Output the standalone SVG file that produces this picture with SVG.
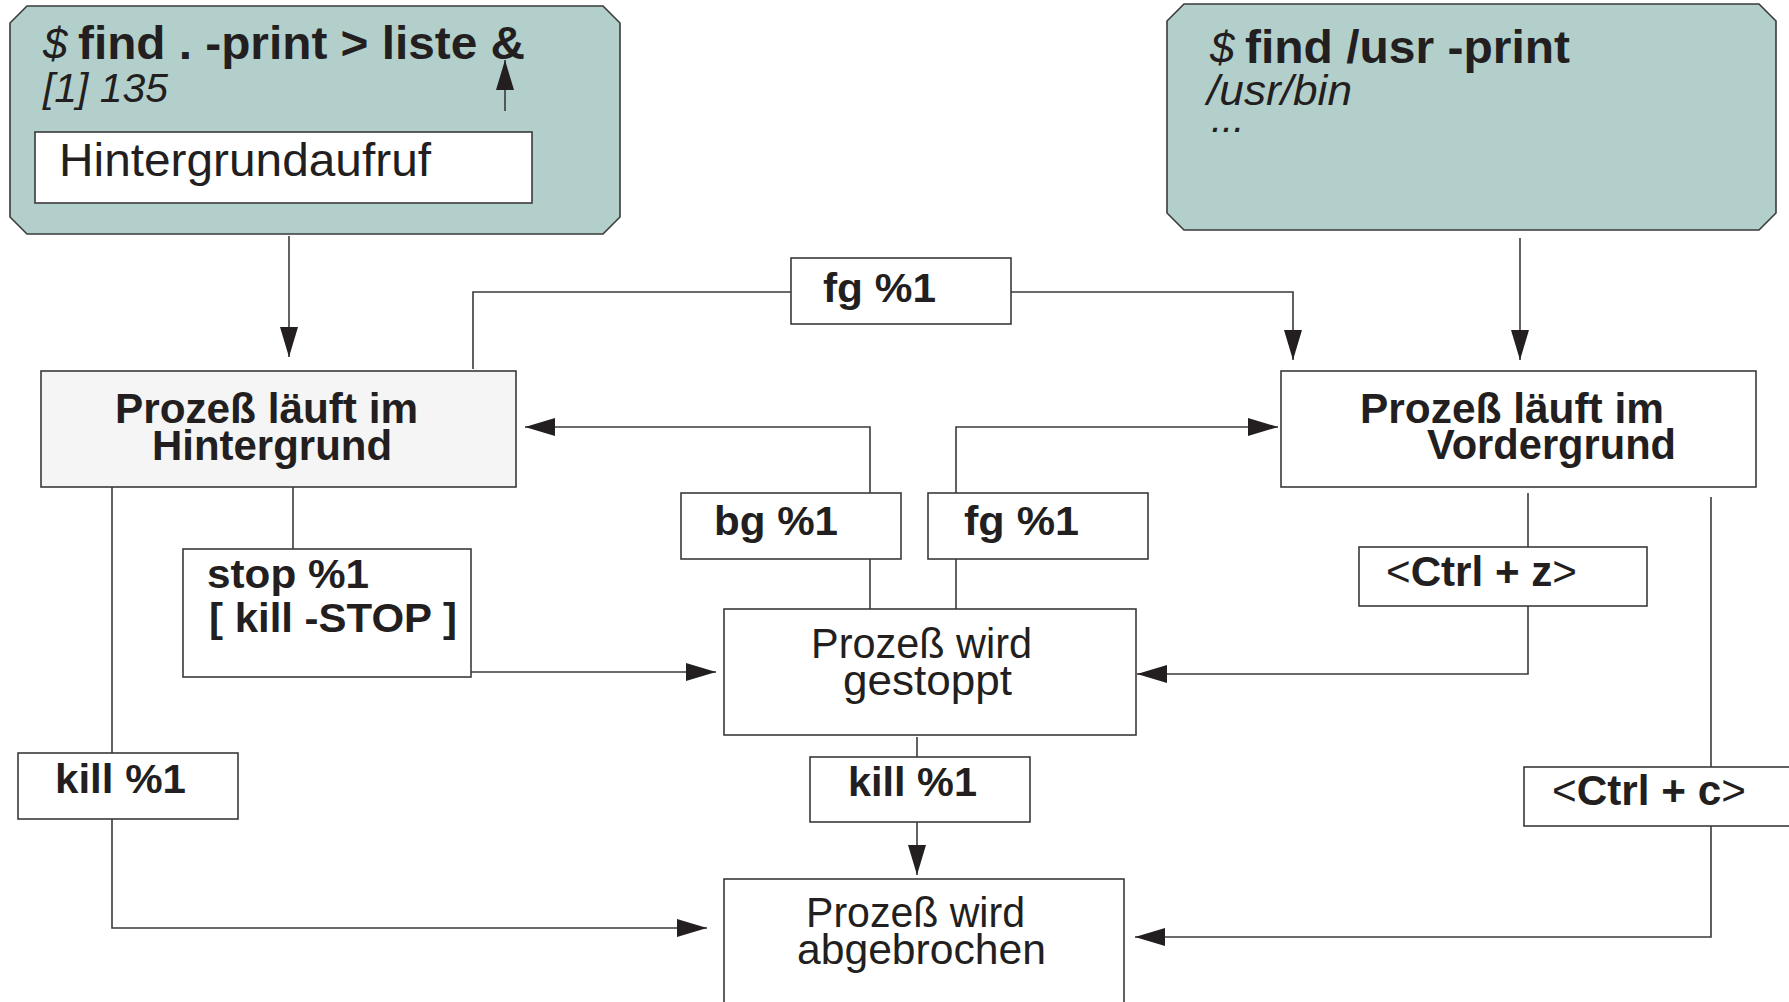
<svg xmlns="http://www.w3.org/2000/svg" width="1789" height="1002" viewBox="0 0 1789 1002">
  <style>
    .box { fill: #ffffff; stroke: #3a3a3a; stroke-width: 1.6; }
    .term { fill: #b3cfcb; stroke: #3a3a3a; stroke-width: 1.6; }
    .gray { fill: #f5f5f5; stroke: #3a3a3a; stroke-width: 1.6; }
    .conn { fill: none; stroke: #3a3a3a; stroke-width: 1.6; }
    text { font-family: "Liberation Sans", Arial, sans-serif; fill: #231f20; }
    .b { font-weight: bold; }
    .i { font-style: italic; }
    .lbl { font-weight: bold; font-size: 40px; }
    .head { font-weight: bold; font-size: 42px; }
    .reg { font-size: 42px; }
  </style>
  <defs>
    <marker id="arr" markerUnits="userSpaceOnUse" markerWidth="30" markerHeight="18" refX="30" refY="9" orient="auto">
      <path d="M0,0 L30,9 L0,18 Z" fill="#231f20"/>
    </marker>
  </defs>

  <g id="connectors">
    <path class="conn" d="M289,236 V357" marker-end="url(#arr)"/>
    <path class="conn" d="M1520,238 V360" marker-end="url(#arr)"/>
    <path class="conn" d="M473,369 V292 H791"/>
    <path class="conn" d="M1011,292 H1293 V360" marker-end="url(#arr)"/>
    <path class="conn" d="M870,609 V559"/>
    <path class="conn" d="M870,493 V427 H525" marker-end="url(#arr)"/>
    <path class="conn" d="M956,609 V559"/>
    <path class="conn" d="M956,493 V427 H1278" marker-end="url(#arr)"/>
    <path class="conn" d="M112,487 V753"/>
    <path class="conn" d="M112,819 V928 H707" marker-end="url(#arr)"/>
    <path class="conn" d="M293,487 V549"/>
    <path class="conn" d="M471,672 H716" marker-end="url(#arr)"/>
    <path class="conn" d="M1528,493 V547"/>
    <path class="conn" d="M1528,606 V674 H1137" marker-end="url(#arr)"/>
    <path class="conn" d="M1711,497 V767"/>
    <path class="conn" d="M1711,826 V937 H1135" marker-end="url(#arr)"/>
    <path class="conn" d="M917,737 V757"/>
    <path class="conn" d="M917,822 V875" marker-end="url(#arr)"/>
  </g>

  <g id="terminal-bg">
    <polygon class="term" points="27,6 603,6 620,23 620,217 603,234 27,234 10,217 10,23"/>
    <text x="43" y="59" class="i" font-size="44">$</text>
    <text x="78" y="59" class="b" font-size="46" textLength="447" lengthAdjust="spacingAndGlyphs">find . -print &gt; liste &amp;</text>
    <text x="43" y="102" class="i" font-size="40" textLength="125" lengthAdjust="spacingAndGlyphs">[1] 135</text>
    <path class="conn" d="M505,111 V60" marker-end="url(#arr)"/>
    <rect class="box" x="35" y="132" width="497" height="71"/>
    <text x="59" y="176" font-size="46" textLength="372" lengthAdjust="spacingAndGlyphs">Hintergrundaufruf</text>
  </g>

  <g id="terminal-fg">
    <polygon class="term" points="1184,4 1759,4 1776,21 1776,213 1759,230 1184,230 1167,213 1167,21"/>
    <text x="1210" y="63" class="i" font-size="44">$</text>
    <text x="1245" y="63" class="b" font-size="46" textLength="325" lengthAdjust="spacingAndGlyphs">find /usr -print</text>
    <text x="1207" y="105" class="i" font-size="42" textLength="145" lengthAdjust="spacingAndGlyphs">/usr/bin</text>
    <text x="1211" y="132" class="i" font-size="40">...</text>
  </g>

  <g id="label-fg-top">
    <rect class="box" x="791" y="258" width="220" height="66"/>
    <text x="823" y="302" class="lbl" textLength="113" lengthAdjust="spacingAndGlyphs">fg %1</text>
  </g>

  <g id="node-hintergrund">
    <rect class="gray" x="41" y="371" width="475" height="116"/>
    <text x="115" y="423" class="head" textLength="303" lengthAdjust="spacingAndGlyphs">Prozeß läuft im</text>
    <text x="152" y="460" class="head" textLength="240" lengthAdjust="spacingAndGlyphs">Hintergrund</text>
  </g>

  <g id="node-vordergrund">
    <rect class="box" x="1281" y="371" width="475" height="116"/>
    <text x="1360" y="423" class="head" textLength="304" lengthAdjust="spacingAndGlyphs">Prozeß läuft im</text>
    <text x="1427" y="459" class="head" textLength="249" lengthAdjust="spacingAndGlyphs">Vordergrund</text>
  </g>

  <g id="label-bg">
    <rect class="box" x="681" y="493" width="220" height="66"/>
    <text x="714" y="535" class="lbl" textLength="124" lengthAdjust="spacingAndGlyphs">bg %1</text>
  </g>

  <g id="label-fg-mid">
    <rect class="box" x="928" y="493" width="220" height="66"/>
    <text x="964" y="535" class="lbl" textLength="115" lengthAdjust="spacingAndGlyphs">fg %1</text>
  </g>

  <g id="label-stop">
    <rect class="box" x="183" y="549" width="288" height="128"/>
    <text x="207" y="588" class="lbl" textLength="162" lengthAdjust="spacingAndGlyphs">stop %1</text>
    <text x="209" y="632" class="lbl" textLength="248" lengthAdjust="spacingAndGlyphs">[ kill -STOP ]</text>
  </g>

  <g id="label-kill-left">
    <rect class="box" x="18" y="753" width="220" height="66"/>
    <text x="55" y="793" class="lbl" textLength="131" lengthAdjust="spacingAndGlyphs">kill %1</text>
  </g>

  <g id="node-gestoppt">
    <rect class="box" x="724" y="609" width="412" height="126"/>
    <text x="811" y="658" class="reg" textLength="221" lengthAdjust="spacingAndGlyphs">Prozeß wird</text>
    <text x="843" y="695" class="reg" textLength="169" lengthAdjust="spacingAndGlyphs">gestoppt</text>
  </g>

  <g id="label-kill-mid">
    <rect class="box" x="810" y="757" width="220" height="65"/>
    <text x="848" y="796" class="lbl" textLength="129" lengthAdjust="spacingAndGlyphs">kill %1</text>
  </g>

  <g id="label-ctrl-z">
    <rect class="box" x="1359" y="547" width="288" height="59"/>
    <text x="1386" y="586" font-size="42" textLength="191" lengthAdjust="spacingAndGlyphs">&lt;<tspan class="b">Ctrl + z</tspan>&gt;</text>
  </g>

  <g id="label-ctrl-c">
    <rect class="box" x="1524" y="767" width="290" height="59"/>
    <text x="1552" y="805" font-size="42" textLength="194" lengthAdjust="spacingAndGlyphs">&lt;<tspan class="b">Ctrl + c</tspan>&gt;</text>
  </g>

  <g id="node-abgebrochen">
    <rect class="box" x="724" y="879" width="400" height="140"/>
    <text x="806" y="927" class="reg" textLength="219" lengthAdjust="spacingAndGlyphs">Prozeß wird</text>
    <text x="797" y="964" class="reg" textLength="249" lengthAdjust="spacingAndGlyphs">abgebrochen</text>
  </g>
</svg>
